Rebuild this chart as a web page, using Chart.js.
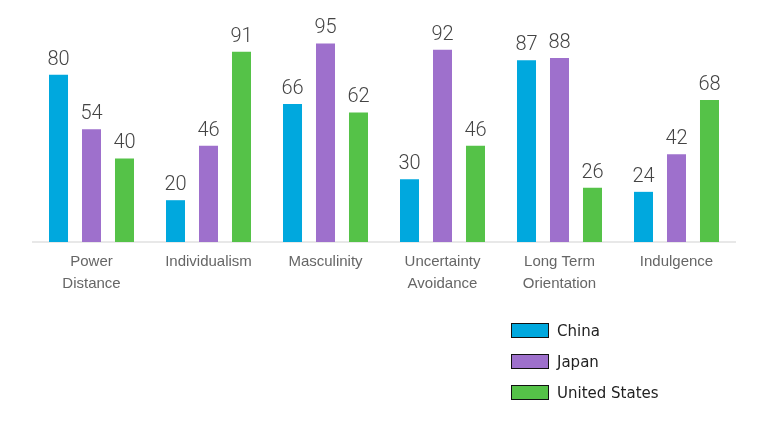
<!DOCTYPE html>
<html>
<head>
<meta charset="utf-8">
<script src="https://cdn.jsdelivr.net/npm/chart.js@4"></script>
<style>
  html, body { margin: 0; padding: 0; background: #fff; }
  #wrap { position: relative; width: 781px; height: 428px; }
  #legend { position: absolute; left: 511px; top: 315px; list-style: none; margin: 0; padding: 0;
    font-family: "DejaVu Sans", Verdana, sans-serif; font-size: 15px; color: #222; }
  #legend li { display: flex; align-items: center; height: 31px; }
  #legend span.box { display: inline-block; width: 36px; height: 13px; border: 1px solid #111; margin-right: 8px; }
</style>
</head>
<body>
<div id="wrap">
  <canvas id="hofstede" width="781" height="428"></canvas>
  <ul id="legend"></ul>
</div>
<script>
const categories = [
  ["Power", "Distance"],
  "Individualism",
  "Masculinity",
  ["Uncertainty", "Avoidance"],
  ["Long Term", "Orientation"],
  "Indulgence",
];
const seriesNames = ["China", "Japan", "United States"];
const chinaValues = [80, 20, 66, 30, 87, 24];
const japanValues = [54, 46, 95, 92, 88, 42];
const usValues = [40, 91, 62, 46, 26, 68];
const seriesColors = ["#00a8de", "#9e70cc", "#55c248"];

const valueLabels = {
  id: "valueLabels",
  afterDatasetsDraw(chart) {
    const { ctx } = chart;
    ctx.save();
    ctx.font = "300 20px Roboto, sans-serif";
    ctx.fillStyle = "#444";
    ctx.textAlign = "center";
    ctx.textBaseline = "alphabetic";
    chart.data.datasets.forEach((ds, i) => {
      chart.getDatasetMeta(i).data.forEach((bar, j) => {
        ctx.fillText(String(ds.data[j]), bar.x, bar.y - 10);
      });
    });
    ctx.restore();
  },
};

const chart = new Chart(document.getElementById("hofstede"), {
  type: "bar",
  data: {
    labels: categories,
    datasets: [chinaValues, japanValues, usValues].map((data, i) => ({
      label: seriesNames[i],
      data,
      backgroundColor: seriesColors[i],
      borderWidth: 0,
      categoryPercentage: 0.846,
      barPercentage: 0.576,
    })),
  },
  options: {
    responsive: false,
    animation: false,
    layout: { padding: { left: 33, right: 46, top: 33, bottom: 0 } },
    plugins: { legend: { display: false }, tooltip: { enabled: false } },
    scales: {
      x: {
        grid: { display: false, drawTicks: false },
        border: { display: true, color: "#e8e8e8", width: 2 },
        ticks: {
          color: "#666",
          font: { family: "Arial, 'Liberation Sans', sans-serif", size: 15, lineHeight: 1.47 },
          padding: 9,
          maxRotation: 0,
          autoSkip: false,
        },
        afterFit: (scale) => { scale.height = 428 - 242; },
      },
      y: { display: false, min: 0, max: 100 },
    },
  },
  plugins: [valueLabels],
});

document.getElementById("legend").innerHTML = chart.data.datasets
  .map((ds) => `<li><span class="box" style="background:${ds.backgroundColor}"></span>${ds.label}</li>`)
  .join("");
</script>
</body>
</html>
